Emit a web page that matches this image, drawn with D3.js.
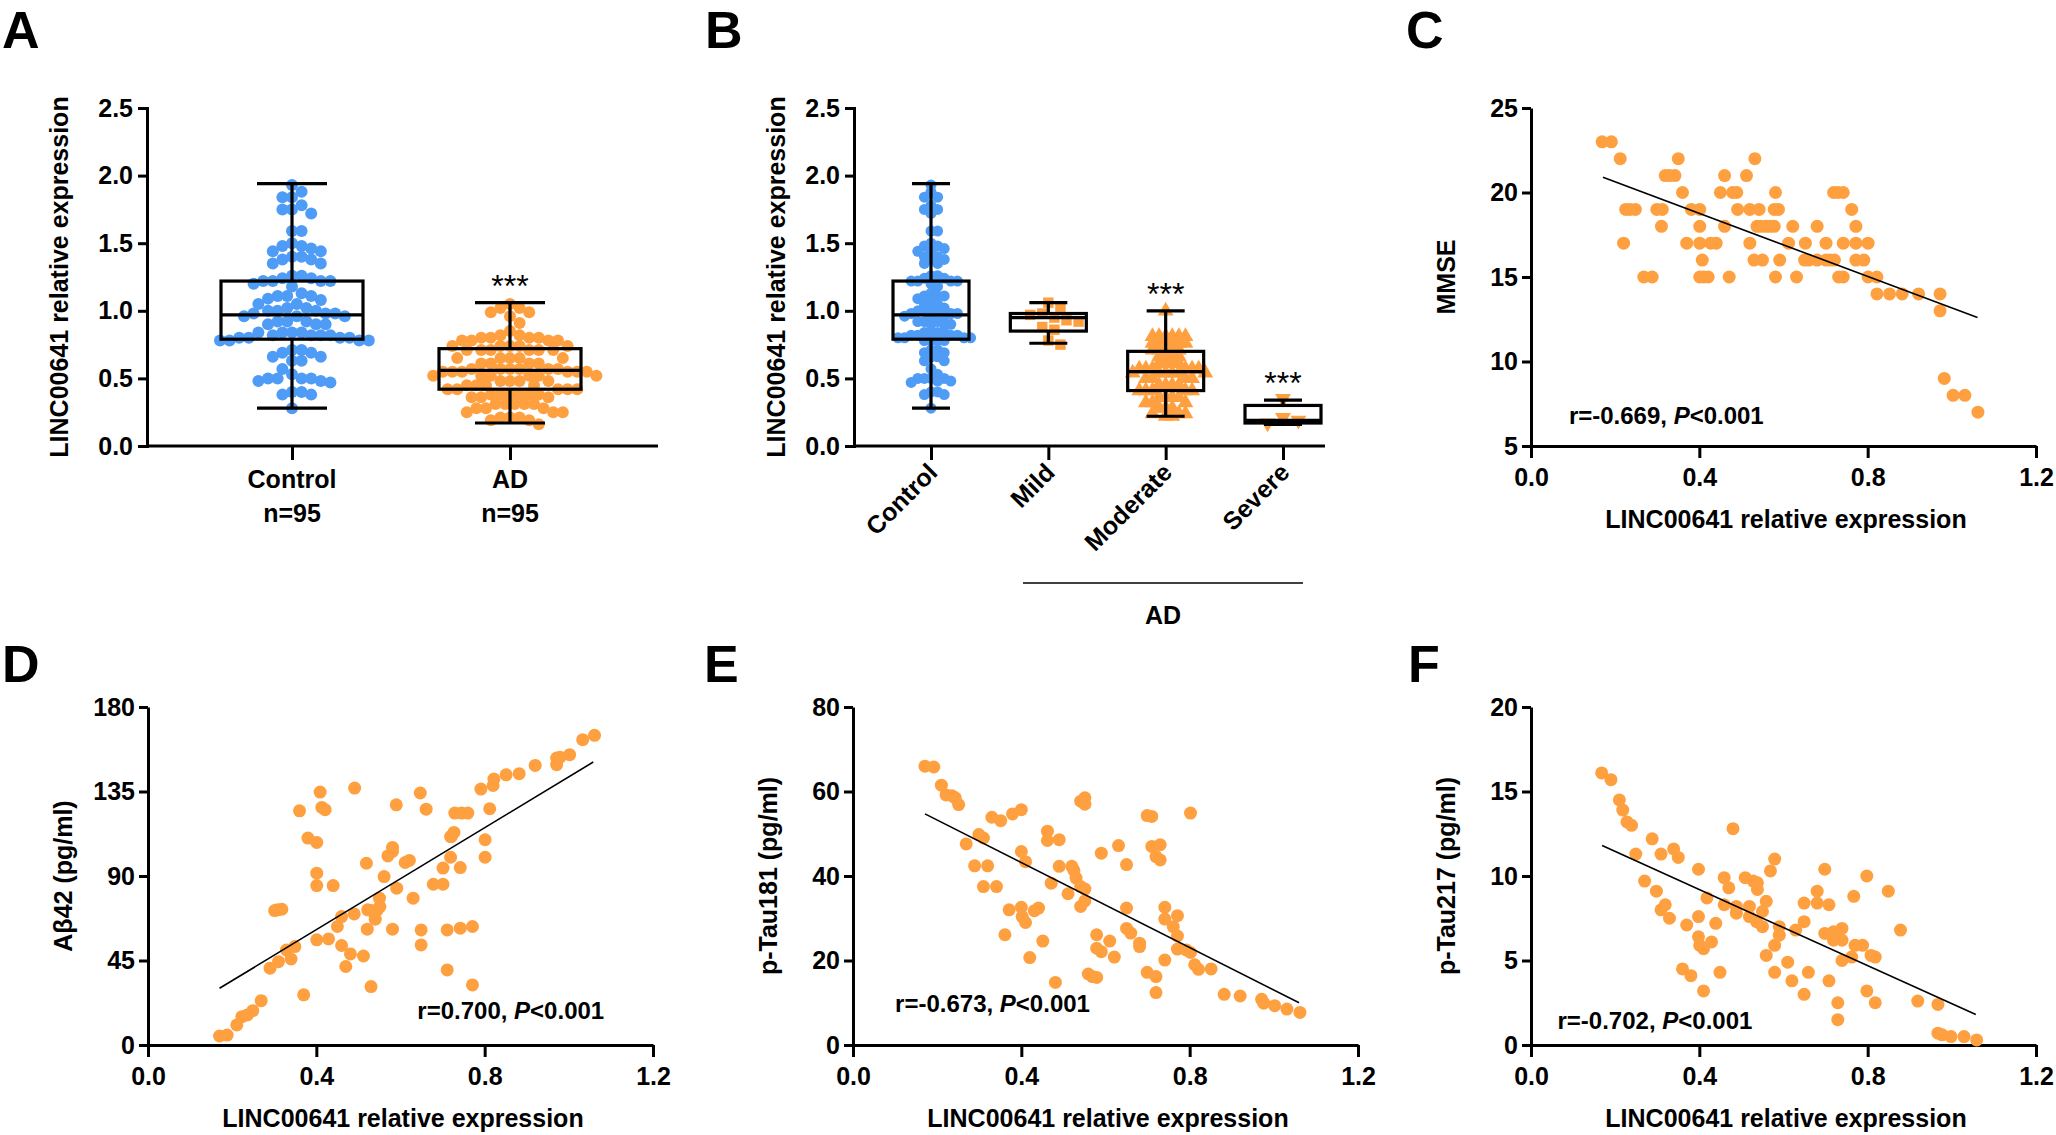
<!DOCTYPE html>
<html>
<head>
<meta charset="utf-8">
<script src="https://cdn.jsdelivr.net/npm/d3@7"></script>
<style>
  body { margin: 0; background: #fff; }
  svg text { font-family: "Liberation Sans", Arial, sans-serif; font-weight: bold; fill: #000; }
</style>
</head>
<body>
<svg id="fig" width="2056" height="1135"></svg>
<script>
// ---- data ----
const BLUE = '#4f9cf6', ORANGE = '#ffa040';

function rep(pairs) { // [value, count] -> flat list
    const out = [];
    pairs.forEach(([v, n]) => { for (let i = 0; i < n; i++) out.push(v); });
    return out;
}

const controlExpr = rep([[1.93,1],[1.88,1],[1.84,2],[1.78,1],[1.75,2],[1.72,1],[1.59,2],[1.50,1],[1.48,2],[1.46,1],
    [1.44,2],[1.40,2],[1.38,2],[1.35,2],[1.26,2],[1.24,2],[1.22,4],[1.20,1],[1.18,1],[1.13,1],[1.11,3],[1.09,1],
    [1.08,1],[1.05,2],[1.02,2],[1.00,3],[0.98,3],[0.96,3],[0.92,3],[0.90,3],[0.84,4],[0.82,4],[0.80,4],[0.78,4],
    [0.71,2],[0.69,2],[0.66,2],[0.63,2],[0.57,1],[0.53,1],[0.50,4],[0.48,2],[0.47,1],[0.40,2],[0.38,2],[0.28,1]]);
const adExpr = rep([[1.05,1],[1.02,2],[0.99,2],[0.96,1],[0.91,1],[0.85,1],[0.82,2],[0.80,4],[0.78,4],[0.74,5],
    [0.71,6],[0.65,5],[0.61,4],[0.57,6],[0.55,6],[0.52,6],[0.48,4],[0.45,4],[0.42,5],[0.38,6],[0.36,3],[0.31,5],
    [0.28,3],[0.25,3],[0.21,3],[0.19,2],[0.16,1]]);
const mildExpr = [1.06, 1.03, 0.98, 0.97, 0.95, 0.93, 0.92, 0.88, 0.86, 0.78, 0.75];
const moderateExpr = rep([[1.0,1],[0.81,6],[0.76,6],[0.71,5],[0.66,4],[0.61,4],[0.57,6],[0.54,6],[0.50,4],[0.45,4],
    [0.41,5],[0.36,4],[0.32,3],[0.28,3],[0.24,3],[0.22,2]]);
const severeExpr = [0.35, 0.21, 0.19, 0.17];

// box stats [min, q1, median, q3, max]
const boxA = { Control: [0.28, 0.79, 0.97, 1.22, 1.94], AD: [0.17, 0.42, 0.56, 0.72, 1.06] };
const boxB = { Control: [0.28, 0.79, 0.97, 1.22, 1.94], Mild: [0.76, 0.85, 0.95, 0.98, 1.06],
    Moderate: [0.22, 0.41, 0.55, 0.70, 1.0], Severe: [0.16, 0.17, 0.19, 0.30, 0.34] };
const groupsA = ['Control', 'AD'];
const groupsB = ['Control', 'Mild', 'Moderate', 'Severe'];

// panel C: MMSE rows (score -> expression values)
const mmseRows = [
    [23, [.169,.191]], [22, [.212,.350,.532]], [21, [.319,.329,.342,.460,.512]],
    [20, [.360,.450,.479,.489,.581,.719,.729,.742]],
    [19, [.225,.235,.248,.299,.312,.381,.401,.491,.520,.542,.578,.588,.762]],
    [18, [.310,.401,.460,.537,.547,.558,.568,.578,.622,.680,.772]],
    [17, [.220,.370,.401,.427,.440,.520,.612,.652,.701,.742,.772,.801]],
    [16, [.407,.530,.550,.591,.650,.660,.680,.701,.711,.721,.772,.791]],
    [15, [.268,.288,.401,.411,.421,.471,.581,.631,.731,.742,.801,.822]],
    [14, [.822,.852,.882,.921,.972]], [13, [.972]], [9, [.982]], [8, [1.003,1.031]], [7, [1.062]]
];
const mmsePts = mmseRows.flatMap(([y, xs]) => xs.map(x => [x, y]));

const abPts = [[.170,4.8],[.188,5.3],[.211,10.7],[.223,15.1],[.236,16.0],[.249,18.3],[.269,23.6],[.290,40.9],[.310,44.4],
    [.340,45.8],[.329,50.6],[.349,52.4],[.370,26.7],[.360,124.7],[.380,110.2],[.401,107.9],[.409,134.7],[.413,126.5],
    [.421,125.3],[.401,91.5],[.401,84.9],[.440,84.9],[.401,56.0],[.429,56.5],[.460,53.0],[.450,63.1],[.460,68.4],
    [.470,41.8],[.481,48.5],[.490,69.8],[.512,47.4],[.519,96.8],[.521,61.7],[.530,31.1],[.531,71.6],[.540,67.0],
    [.550,78.2],[.551,73.7],[.561,89.7],[.570,100.7],[.581,103.1],[.581,105.2],[.581,61.7],[.590,127.9],[.591,83.5],
    [.611,97.2],[.621,98.3],[.630,78.2],[.647,134.2],[.649,61.3],[.649,53.3],[.661,125.6],[.678,85.6],[.701,85.6],
    [.701,94.2],[.711,61.3],[.711,40.0],[.719,100.0],[.721,111.1],[.727,113.2],[.729,123.5],[.742,94.5],[.742,62.2],
    [.745,123.5],[.760,123.5],[.771,63.1],[.771,32.0],[.801,109.3],[.801,100.0],[.791,136.3],[.812,125.8],[.820,138.2],
    [.822,141.6],[.851,143.9],[.882,144.5],[.920,148.9],[.971,149.3],[.971,152.8],[.979,153.3],[1.002,154.6],
    [1.033,162.6],[1.061,164.9],[.308,72.0],[.318,72.3],[.301,71.6],[.491,136.8],[.719,111],[.545,72],[.522,72]];

const tau181Pts = [[.171,66.0],[.192,65.8],[.210,61.5],[.221,59.2],[.235,59.0],[.243,58.5],[.251,56.9],[.269,47.6],
    [.299,49.8],[.310,49.0],[.289,42.4],[.320,42.4],[.310,37.5],[.341,37.5],[.330,53.9],[.351,53.1],[.379,54.7],
    [.400,55.7],[.400,45.8],[.410,43.4],[.371,32.0],[.400,32.6],[.402,30.4],[.410,29.0],[.361,26.1],[.420,20.7],
    [.431,31.8],[.441,32.4],[.451,24.6],[.462,50.6],[.462,48.4],[.490,48.6],[.490,42.3],[.471,38.3],[.481,14.8],
    [.511,35.8],[.520,42.3],[.525,41.3],[.530,39.5],[.541,37.5],[.551,36.9],[.541,32.8],[.551,34.1],[.541,57.7],
    [.551,58.5],[.551,57.0],[.590,45.4],[.579,26.1],[.579,22.9],[.590,22.1],[.559,16.8],[.569,16.2],[.579,16.0],
    [.610,24.6],[.621,20.8],[.631,47.2],[.650,42.7],[.650,32.4],[.650,27.6],[.660,26.5],[.681,24.1],[.681,23.3],
    [.699,54.3],[.710,54.1],[.710,47.0],[.730,47.4],[.720,44.6],[.730,43.8],[.699,17.2],[.720,16.2],[.720,12.4],
    [.741,32.6],[.741,29.8],[.741,20.1],[.761,28.0],[.771,30.6],[.771,25.8],[.771,22.7],[.792,22.5],[.802,54.9],
    [.802,21.9],[.812,19.0],[.821,17.9],[.851,18.0],[.882,12.0],[.920,11.6],[.971,10.8],[.976,9.9],[1.002,9.3],
    [1.031,8.5],[1.062,7.7]];

const tau217Pts = [[.168,16.1],[.190,15.7],[.210,14.5],[.218,13.9],[.228,13.2],[.239,13.0],[.249,11.3],[.270,9.7],
    [.288,12.2],[.298,9.1],[.309,11.3],[.309,8.0],[.319,8.3],[.329,7.5],[.339,11.6],[.350,11.1],[.360,4.5],[.370,7.1],
    [.380,4.1],[.398,10.4],[.398,7.6],[.398,6.4],[.401,5.9],[.410,5.7],[.410,3.2],[.418,8.7],[.429,6.1],[.439,7.2],
    [.449,4.3],[.459,9.9],[.459,8.3],[.470,9.3],[.480,12.8],[.488,8.2],[.488,7.8],[.509,9.9],[.519,8.2],[.519,7.6],
    [.528,9.7],[.538,9.6],[.538,9.2],[.536,7.3],[.550,7.9],[.550,7.0],[.559,8.5],[.559,5.3],[.569,10.3],[.579,11.0],
    [.579,5.9],[.579,4.3],[.590,7.0],[.590,6.5],[.610,4.9],[.620,3.8],[.629,6.8],[.649,8.4],[.649,7.3],[.649,3.0],
    [.659,4.3],[.680,9.1],[.680,8.4],[.698,10.4],[.698,6.6],[.708,8.3],[.708,3.8],[.719,6.7],[.719,6.2],[.729,2.5],
    [.729,1.5],[.739,6.9],[.739,6.2],[.739,5.0],[.762,5.2],[.767,8.8],[.770,5.9],[.788,5.9],[.798,10.0],[.798,3.2],
    [.808,5.3],[.818,5.2],[.818,2.5],[.849,9.1],[.878,6.8],[.919,2.6],[.967,2.4],[.967,0.7],[.977,0.6],[.998,0.5],
    [1.029,0.5],[1.059,0.3]];

// fitted lines [[x0,y0],[x1,y1]] and stats text
const fitC = [[.171, 20.9], [1.061, 12.6]];
const fitD = [[.170, 30.2], [1.058, 150.7]];
const fitE = [[.171, 54.7], [1.060, 10.0]];
const fitF = [[.169, 11.8], [1.057, 1.8]];
const statsC = ['r=-0.669, ', 'P', '<0.001'];
const statsD = ['r=0.700, ', 'P', '<0.001'];
const statsE = ['r=-0.673, ', 'P', '<0.001'];
const statsF = ['r=-0.702, ', 'P', '<0.001'];

// ---- drawing ----
const svg = d3.select('#fig');
const TICK_FONT = 25;

function styleAxis(g) {
    g.selectAll('path, line').attr('stroke', '#000').attr('stroke-width', 3);
    g.selectAll('text').style('font-size', TICK_FONT + 'px');
}

function panelLetter(txt, x, y) {
    svg.append('text').attr('x', x).attr('y', y).style('font-size', '52px').text(txt);
}

function yLabel(txt, x, y) {
    svg.append('text').attr('transform', `translate(${x},${y}) rotate(-90)`)
        .attr('text-anchor', 'middle').style('font-size', '25px').text(txt);
}

function swarmOffsets(values, y, r, step) {
    const order = values.map((v, i) => i).sort((a, b) => values[b] - values[a]);
    const placed = [], off = new Array(values.length);
    const minD = 2 * r * step;
    order.forEach(i => {
        const py = y(values[i]);
        for (let k = 0; k < 200; k++) {
            const dx = (k % 2 ? 1 : -1) * Math.ceil(k / 2) * minD / 2;
            if (placed.every(p => (p[0] - dx) ** 2 + (p[1] - py) ** 2 >= minD * minD * 0.98)) {
                placed.push([dx, py]); off[i] = dx; break;
            }
        }
    });
    return off;
}

function marker(g, shape, cx, cy, r, color) {
    if (shape === 'circle') g.append('circle').attr('cx', cx).attr('cy', cy).attr('r', r).attr('fill', color);
    else {
        const sym = { square: d3.symbolSquare, up: d3.symbolTriangle, down: d3.symbolTriangle }[shape];
        g.append('path').attr('d', d3.symbol(sym, r * r * 3.6)())
            .attr('transform', `translate(${cx},${cy})${shape === 'down' ? ' rotate(180)' : ''}`)
            .attr('fill', color);
    }
}

function boxPanel(opt) {
    const y = d3.scaleLinear().domain([0, 2.5]).range([446, 108]);
    const x = d3.scalePoint().domain(opt.groups).range(opt.centers);
    const g = svg.append('g');
    g.append('g').attr('transform', `translate(${opt.x0},0)`)
        .call(d3.axisLeft(y).tickValues([0, 0.5, 1, 1.5, 2, 2.5]).tickFormat(d3.format('.1f')).tickSize(9).tickPadding(5))
        .call(styleAxis);
    const xa = g.append('g').attr('transform', 'translate(0,446)')
        .call(d3.axisBottom(x).tickSize(14).tickSizeOuter(0).tickFormat(''));
    xa.select('.domain').attr('d', `M${opt.x0},0H${opt.x1}`);
    styleAxis(xa);

    opt.groups.forEach((gr, gi) => {
        const cx = x(gr), s = opt.box[gr], hw = opt.boxW / 2, ww = opt.whiskW / 2;
        const pts = opt.values[gi];
        const off = swarmOffsets(pts, y, opt.r, opt.step[gi]);
        const dg = g.append('g');
        pts.forEach((v, i) => marker(dg, opt.shapes[gi], cx + off[i], y(v), opt.r, opt.colors[gi]));
        const bg = g.append('g').attr('stroke', '#000').attr('stroke-width', 3.2).attr('fill', 'none');
        bg.append('rect').attr('x', cx - hw).attr('y', y(s[3])).attr('width', 2 * hw).attr('height', y(s[1]) - y(s[3]));
        bg.append('line').attr('x1', cx - hw).attr('x2', cx + hw).attr('y1', y(s[2])).attr('y2', y(s[2]));
        bg.append('line').attr('x1', cx).attr('x2', cx).attr('y1', y(s[4])).attr('y2', y(s[3]));
        bg.append('line').attr('x1', cx).attr('x2', cx).attr('y1', y(s[1])).attr('y2', y(s[0]));
        bg.append('line').attr('x1', cx - ww).attr('x2', cx + ww).attr('y1', y(s[4])).attr('y2', y(s[4]));
        bg.append('line').attr('x1', cx - ww).attr('x2', cx + ww).attr('y1', y(s[0])).attr('y2', y(s[0]));
        if (opt.stars[gi]) {
            g.append('text').attr('x', cx).attr('y', y(s[4]) - 6).attr('text-anchor', 'middle')
                .style('font-size', '32px').style('font-weight', 'normal').text('***');
        }
    });
    return x;
}

// Panel A
panelLetter('A', 2, 48);
const xA = boxPanel({ groups: groupsA, centers: [292, 510], x0: 147, x1: 658, box: boxA, boxW: 142, whiskW: 70,
    values: [controlExpr, adExpr], shapes: ['circle', 'circle'], colors: [BLUE, ORANGE], r: 6, step: [0.8, 0.8],
    stars: [false, true] });
yLabel('LINC00641 relative expression', 68, 277);
groupsA.forEach(gr => {
    svg.append('text').attr('x', xA(gr)).attr('y', 488).attr('text-anchor', 'middle').style('font-size', '25px').text(gr);
    svg.append('text').attr('x', xA(gr)).attr('y', 522).attr('text-anchor', 'middle').style('font-size', '25px').text('n=95');
});

// Panel B
panelLetter('B', 705, 48);
const xB = boxPanel({ groups: groupsB, centers: [931, 1283], x0: 854, x1: 1325, box: boxB, boxW: 76, whiskW: 38,
    values: [controlExpr, mildExpr, moderateExpr, severeExpr], shapes: ['circle', 'square', 'up', 'down'],
    colors: [BLUE, ORANGE, ORANGE, ORANGE], r: 5.5, step: [0.6, 1.1, 0.6, 1.4], stars: [false, false, true, true] });
yLabel('LINC00641 relative expression', 785, 277);
groupsB.forEach(gr => {
    svg.append('text').attr('transform', `translate(${xB(gr) + 8},${474}) rotate(-45)`)
        .attr('text-anchor', 'end').style('font-size', '25px').text(gr);
});
svg.append('line').attr('x1', 1023).attr('x2', 1303).attr('y1', 583).attr('y2', 583)
    .attr('stroke', '#000').attr('stroke-width', 1.5);
svg.append('text').attr('x', 1163).attr('y', 624).attr('text-anchor', 'middle').style('font-size', '25px').text('AD');

// scatter panels
function scatterPanel(opt) {
    const x = d3.scaleLinear().domain([0, 1.2]).range([opt.x0, opt.x0 + 505]);
    const y = d3.scaleLinear().domain(opt.yDomain).range([opt.yBottom, opt.yTop]);
    const g = svg.append('g');
    g.append('g').attr('transform', `translate(${opt.x0},0)`)
        .call(d3.axisLeft(y).tickValues(opt.yTicks).tickSize(9).tickSizeOuter(0).tickPadding(4))
        .call(styleAxis);
    g.append('g').attr('transform', `translate(0,${opt.yBottom})`)
        .call(d3.axisBottom(x).tickValues([0, 0.4, 0.8, 1.2]).tickFormat(d3.format('.1f')).tickSize(12).tickSizeOuter(0).tickPadding(10))
        .call(styleAxis);
    g.append('g').selectAll('circle').data(opt.pts).join('circle')
        .attr('cx', d => x(d[0])).attr('cy', d => y(d[1])).attr('r', 6.5).attr('fill', ORANGE);
    g.append('line').attr('x1', x(opt.fit[0][0])).attr('y1', y(opt.fit[0][1]))
        .attr('x2', x(opt.fit[1][0])).attr('y2', y(opt.fit[1][1])).attr('stroke', '#000').attr('stroke-width', 1.6);
    const t = g.append('text').attr('x', x(opt.statPos[0])).attr('y', y(opt.statPos[1])).style('font-size', '24px');
    t.append('tspan').text(opt.stats[0]);
    t.append('tspan').style('font-style', 'italic').text(opt.stats[1]);
    t.append('tspan').text(opt.stats[2]);
    svg.append('text').attr('x', opt.x0 + 255).attr('y', opt.yBottom + 82).attr('text-anchor', 'middle')
        .style('font-size', '25px').text('LINC00641 relative expression');
    yLabel(opt.yLabel, opt.x0 - 76, (opt.yTop + opt.yBottom) / 2);
}

panelLetter('C', 1406, 48);
scatterPanel({ x0: 1531, yTop: 108, yBottom: 446, yDomain: [5, 25], yTicks: [5, 10, 15, 20, 25],
    pts: mmsePts, fit: fitC, stats: statsC, statPos: [0.09, 6.3], yLabel: 'MMSE' });

panelLetter('D', 2, 682);
scatterPanel({ x0: 148, yTop: 707, yBottom: 1045, yDomain: [0, 180], yTicks: [0, 45, 90, 135, 180],
    pts: abPts, fit: fitD, stats: statsD, statPos: [0.64, 14], yLabel: 'Aβ42 (pg/ml)' });

panelLetter('E', 704, 682);
scatterPanel({ x0: 853, yTop: 707, yBottom: 1045, yDomain: [0, 80], yTicks: [0, 20, 40, 60, 80],
    pts: tau181Pts, fit: fitE, stats: statsE, statPos: [0.10, 7.8], yLabel: 'p-Tau181 (pg/ml)' });

panelLetter('F', 1408, 682);
scatterPanel({ x0: 1531, yTop: 707, yBottom: 1045, yDomain: [0, 20], yTicks: [0, 5, 10, 15, 20],
    pts: tau217Pts, fit: fitF, stats: statsF, statPos: [0.063, 0.95], yLabel: 'p-Tau217 (pg/ml)' });
</script>
</body>
</html>
